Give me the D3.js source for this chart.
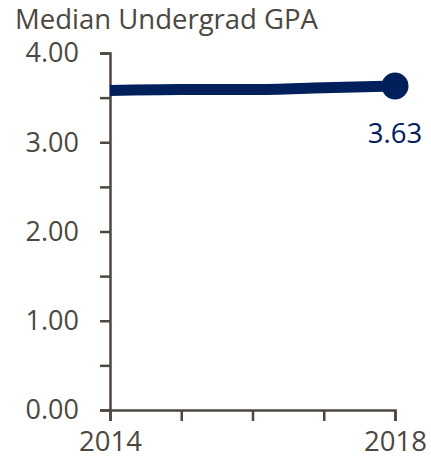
<!DOCTYPE html>
<html>
<head>
<meta charset="utf-8">
<script src="https://cdn.jsdelivr.net/npm/d3@7"></script>
<style>
  body { margin: 0; background: #fff; }
  text { font-family: "Source Sans Pro", "Open Sans", "Noto Sans", sans-serif; }
</style>
</head>
<body>
<div id="chart"></div>
<script>
// data
const years = [2014, 2015, 2016, 2017, 2018];
const gpa = [3.58, 3.59, 3.59, 3.61, 3.63];
const yTicks = [0, 1, 2, 3, 4];
const yMinorTicks = [0, 0.5, 1, 1.5, 2, 2.5, 3, 3.5, 4];
const xLabels = [2014, 2018];
const title = "Median Undergrad GPA";

const W = 431, H = 461;
const margin = { top: 53, right: 36, bottom: 51, left: 110 };
const width = W - margin.left - margin.right;
const height = H - margin.top - margin.bottom;

const navy = "#00205b";
const grey = "#4d4740";

const svg = d3.select("#chart")
  .append("svg")
  .attr("width", W)
  .attr("height", H);

svg.append("text")
  .attr("x", 15)
  .attr("y", 28.5)
  .attr("fill", grey)
  .style("font-size", "27.5px")
  .text(title);

const g = svg.append("g").attr("transform", `translate(${margin.left},${margin.top})`);

const x = d3.scaleLinear().domain([2014, 2018]).range([0, width]);
const y = d3.scaleLinear().domain([0, 4]).range([height, 0]);

// y axis: minor ticks every 0.5, labels every 1
const yAxis = g.append("g")
  .call(d3.axisLeft(y).tickValues(yMinorTicks).tickSize(10).tickFormat(d => yTicks.includes(d) ? d3.format(".2f")(d) : ""));
yAxis.select(".domain").attr("stroke", grey).attr("stroke-width", 2.5);
yAxis.selectAll(".tick line").attr("stroke", grey).attr("stroke-width", 2.5);
yAxis.selectAll(".tick text")
  .attr("fill", grey)
  .attr("x", -31)
  .attr("dy", "0.33em")
  .style("font-size", "27px");

// x axis
const xAxis = g.append("g")
  .attr("transform", `translate(0,${height})`)
  .call(d3.axisBottom(x).tickValues(years).tickSize(11).tickFormat(d => xLabels.includes(d) ? d : ""));
xAxis.select(".domain").attr("stroke", grey).attr("stroke-width", 2.5);
xAxis.selectAll(".tick line").attr("stroke", grey).attr("stroke-width", 2.5);
xAxis.selectAll(".tick text")
  .attr("fill", grey)
  .attr("y", 21)
  .style("font-size", "27.5px");

// line
const line = d3.line()
  .x((d, i) => x(years[i]))
  .y(d => y(d))
  .curve(d3.curveMonotoneX);

g.append("path")
  .datum(gpa)
  .attr("fill", "none")
  .attr("stroke", navy)
  .attr("stroke-width", 11)
  .attr("d", line);

// end point + label
const last = gpa.length - 1;
g.append("circle")
  .attr("cx", x(years[last]))
  .attr("cy", y(gpa[last]))
  .attr("r", 13.5)
  .attr("fill", navy);

g.append("text")
  .attr("x", x(years[last]))
  .attr("y", y(gpa[last]) + 57)
  .attr("text-anchor", "middle")
  .attr("fill", navy)
  .style("font-size", "27.5px")
  .text(d3.format(".2f")(gpa[last]));
</script>
</body>
</html>
